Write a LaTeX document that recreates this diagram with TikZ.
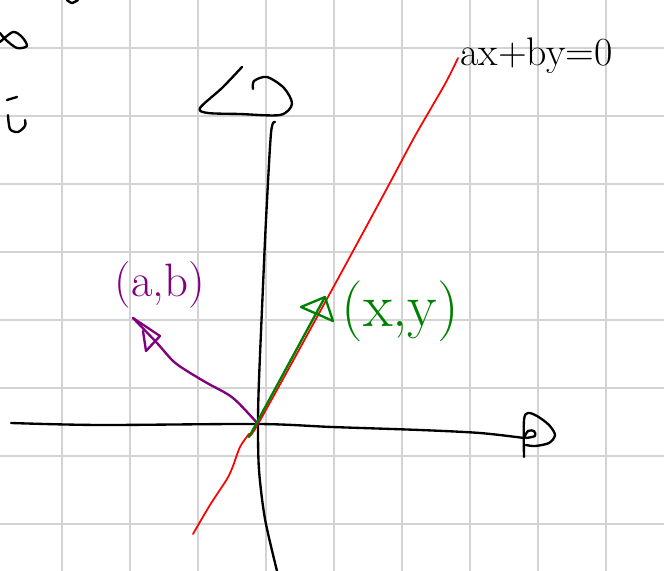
\documentclass[tikz,border=0pt]{standalone}
\usepackage{tikz}
\usetikzlibrary{positioning, calc}
\definecolor{gridgray}{HTML}{D3D3D3}
\definecolor{penpurple}{HTML}{800080}
\definecolor{pengreen}{HTML}{008000}
\definecolor{penred}{HTML}{FF0000}

\begin{document}
\begin{tikzpicture}[
        x=0.03cm, y=-0.03cm,
        gridline/.style={gridgray, line width=1.4pt},
        pen/.style={black, line width=2pt, line cap=round, line join=round},
        redpen/.style={penred, line width=1.5pt, line cap=round, line join=round},
        purplepen/.style={penpurple, line width=2pt, line cap=round, line join=round},
        greenpen/.style={pengreen, line width=2pt, line cap=round, line join=round},
        lbl/.style={inner sep=0pt}
    ]
    \useasboundingbox (0,0) rectangle (664,571);
    \clip (0,0) rectangle (664,571);

    % squared paper
    \foreach \x in {62,130,...,610} \draw[gridline] (\x,0) -- (\x,571);
    \foreach \y in {48,116,...,530} \draw[gridline] (0,\y) -- (664,\y);

    \coordinate (origin) at (258,424);
    \coordinate (ab) at (133,318);
    \coordinate (xy) at (325,297);
    \coordinate (linetop) at (458,58);

    % leftover strokes at the top left
    \draw[pen] plot[smooth] coordinates {(0,42) (13,32) (22,37) (27,46) (17,48) (6,40) (0,33)};
    \draw[pen] plot[smooth] coordinates {(17,97) (7,100)};
    \draw[pen] plot[smooth] coordinates {(8,115) (10,129) (18,132) (25,126) (25,120)};
    \draw[pen] plot[smooth] coordinates {(67,0) (72,3) (78,0)};

    % axes
    \draw[pen] plot[smooth, tension=0.5] coordinates {(11,423) (100,425) (origin) (332,427) (420,430) (480,433) (524,438)};
    \draw[pen] plot[smooth] coordinates {(524,457) (524,420) (528,413) (537,416) (549,425) (555,435) (549,443) (535,446) (526,445)};
    \draw[pen] plot[smooth] coordinates {(524,438) (528,431) (534,431) (535,436) (526,438)};
    \draw[pen] plot[smooth, tension=0.5] coordinates {(275,122) (271,133) (266,220) (263,286) (259,380) (origin) (259,470) (265,519) (277,571)};
    \draw[pen] plot[smooth] coordinates {(242,67) (222,88) (200,108) (208,113) (240,114) (280,115) (292,104) (284,88) (267,77) (254,81) (253,89)};

    % the line ax+by=0
    \draw[redpen] plot[smooth, tension=0.5] coordinates {(193,534) (210,505) (227,479) (233,466) (240,447) (249,434) (origin) (334,286) (385,192) (415,136) (445,84) (linetop)};
    \node[lbl, right=2pt of linetop, yshift=2pt] (eq) {\fontsize{34}{38}\selectfont ax+by=0};

    % normal vector (a,b)
    \draw[purplepen] plot[smooth, tension=0.5] coordinates {(origin) (233,398) (207,383) (187,371) (173,361) (157,343) (ab)};
    \draw[purplepen] (ab) -- (160,336) -- (146,351) -- (143,331);
    \node[lbl, penpurple, above right=8pt and -16pt of ab] (ablbl) {\fontsize{40}{44}\selectfont (a,b)};

    % point (x,y) on the line
    \draw[greenpen] (249,437) -- (xy);
    \draw[greenpen] (xy) -- (301,307) -- (333,321) -- (xy);
    \node[lbl, pengreen, right=14pt of xy, yshift=-12pt] (xylbl) {\fontsize{52}{56}\selectfont (x,y)};

\end{tikzpicture}
\end{document}
